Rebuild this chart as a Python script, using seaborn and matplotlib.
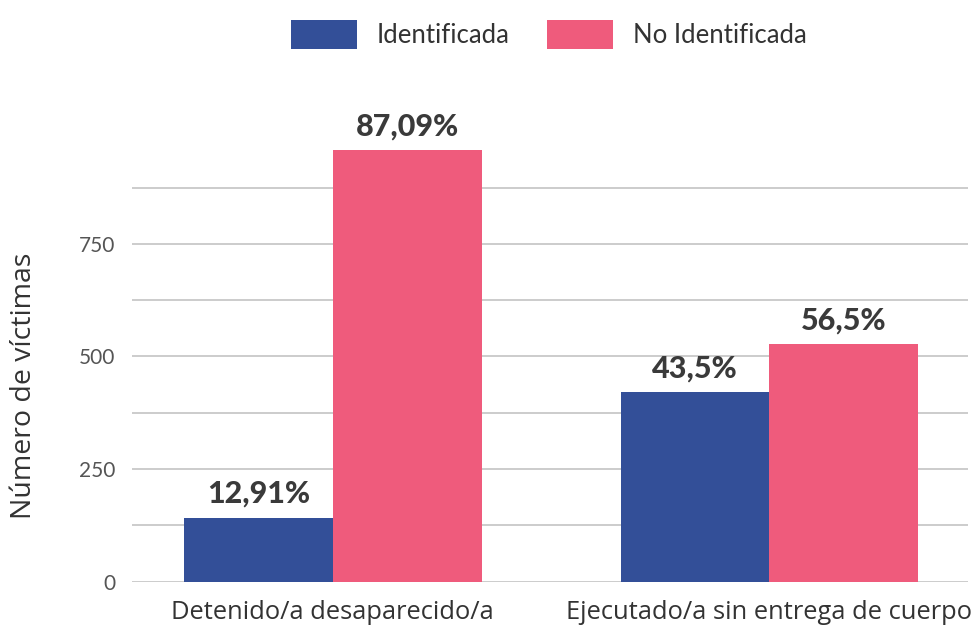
import matplotlib
matplotlib.use("Agg")
import matplotlib.pyplot as plt
import seaborn as sns
import pandas as pd
from matplotlib.patches import Patch
from matplotlib.ticker import FixedLocator

categories = ["Detenido/a desaparecido/a", "Ejecutado/a sin entrega de cuerpo"]
series_names = ["Identificada", "No Identificada"]
identificada = [142, 421]
no_identificada = [958, 528]
pct_identificada = ["12,91%", "43,5%"]
pct_no_identificada = ["87,09%", "56,5%"]
y_major = [0, 250, 500, 750]
y_minor = [125, 375, 625, 875]

colors = ["#334F98", "#EF5B7C"]

df = pd.DataFrame({
    "cat": categories * 2,
    "serie": [series_names[0]] * 2 + [series_names[1]] * 2,
    "val": identificada + no_identificada,
})
labels = pct_identificada + pct_no_identificada

sns.set_theme(style="white")
plt.rcParams["font.family"] = ["Lato", "DejaVu Sans"]

fig = plt.figure(figsize=(9.73, 6.25), dpi=100)
ax = fig.add_axes([0.1357, 0.0693, 0.8593, 0.7134])

sns.barplot(data=df, x="cat", y="val", hue="serie", palette=colors,
            width=0.682, saturation=1, ax=ax, legend=False, linewidth=0)

ax.set_xlim(-0.46, 1.455)
ax.set_ylim(0, 990)
ax.yaxis.set_major_locator(FixedLocator(y_major))
ax.yaxis.set_minor_locator(FixedLocator(y_minor))
ax.grid(True, which="both", axis="y", color="#c4c4c4", linewidth=1.2)
ax.set_axisbelow(True)
for s in ax.spines.values():
    s.set_visible(False)
ax.tick_params(axis="y", which="both", length=0, pad=12, labelsize=15, labelcolor="#555555")
ax.tick_params(axis="x", length=0, pad=13, labelsize=18.4, labelcolor="#333333")
for t in ax.get_xticklabels():
    t.set_fontfamily(["Open Sans", "DejaVu Sans"])
ax.set_xlabel("")
ax.set_ylabel("Número de víctimas", fontsize=20.5, color="#333333",
              fontfamily=["Open Sans", "DejaVu Sans"])
ax.yaxis.set_label_coords(-0.112, 0.439)

for bar, lab in zip(ax.patches, labels):
    ax.annotate(lab, (bar.get_x() + bar.get_width() / 2, bar.get_height()),
                xytext=(0, 7), textcoords="offset points", ha="center", va="bottom",
                fontsize=22, fontweight="black", color="#3a3a3a")

handles = [Patch(facecolor=c, edgecolor="none") for c in colors]
leg = fig.legend(handles, series_names, loc="center", bbox_to_anchor=(0.564, 0.945),
                 ncol=2, frameon=False, handlelength=2.57, handleheight=1.4,
                 handletextpad=0.78, columnspacing=1.44,
                 prop={"size": 18.5, "weight": "normal"})
for t in leg.get_texts():
    t.set_color("#333333")

fig.savefig("out.png", dpi=100)
